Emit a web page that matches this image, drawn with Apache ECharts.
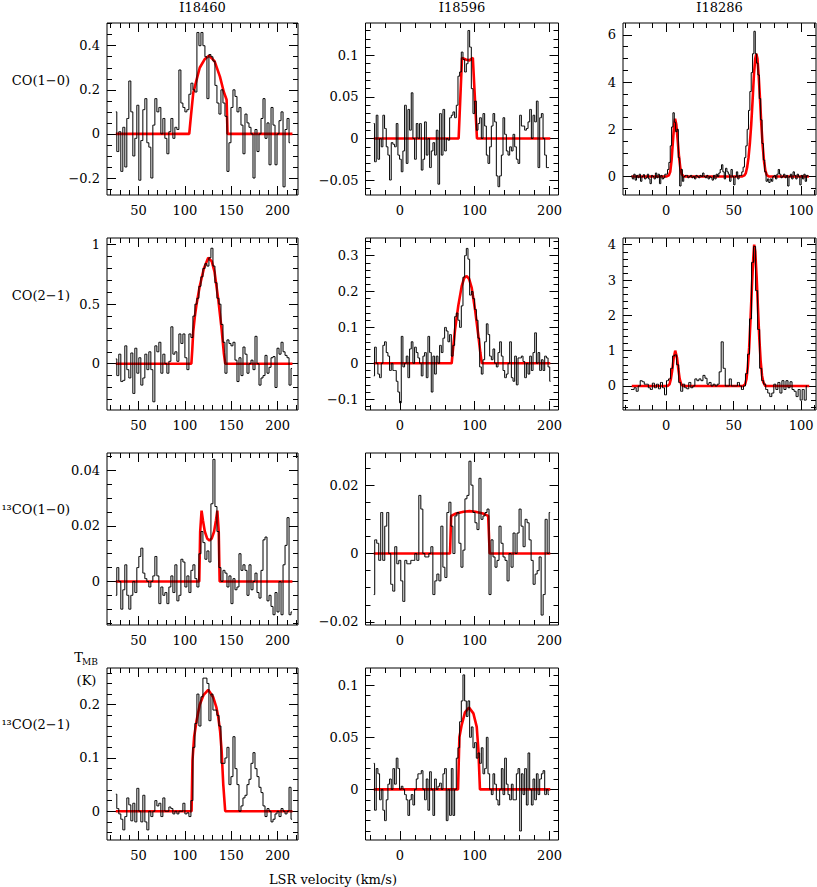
<!DOCTYPE html>
<html><head><meta charset="utf-8">
<script src="https://cdn.jsdelivr.net/npm/echarts@6/dist/echarts.min.js"></script>
<style>html,body{margin:0;padding:0;background:#fff}#c{width:817px;height:887px}</style>
</head><body><div id="c"></div>
<script>
// ---------- text ----------
const colTitles = ['I18460', 'I18596', 'I18286'];
const rowLabels = ['CO(1\u22120)', 'CO(2\u22121)', '\u00b9\u00b3CO(1\u22120)', '\u00b9\u00b3CO(2\u22121)'];
const xTitle = 'LSR velocity (km/s)';
const yTitleMain = 'T', yTitleSub = 'MB', yTitleUnit = '(K)';

// ---------- x tick labels per column ----------
const xTicks_I18460 = [50, 100, 150, 200];
const xTicks_I18596 = [0, 100, 200];
const xTicks_I18286 = [0, 50, 100];

// ---------- y tick labels per panel ----------
const yTicks_co10_I18460 = [-0.2, 0, 0.2, 0.4];
const yTicks_co10_I18596 = [-0.05, 0, 0.05, 0.1];
const yTicks_co10_I18286 = [0, 2, 4, 6];
const yTicks_co21_I18460 = [0, 0.5, 1];
const yTicks_co21_I18596 = [-0.1, 0, 0.1, 0.2, 0.3];
const yTicks_co21_I18286 = [0, 1, 2, 3, 4];
const yTicks_13co10_I18460 = [0, 0.02, 0.04];
const yTicks_13co10_I18596 = [-0.02, 0, 0.02];
const yTicks_13co21_I18460 = [0, 0.1, 0.2];
const yTicks_13co21_I18596 = [0, 0.05, 0.1];

// ---------- spectra (T_MB in K, one value per channel) ----------
const co10_I18460 = [0.10,-0.08,0.01,-0.17,0.03,-0.15,0.07,0.24,0.10,-0.10,-0.02,0.13,-0.21,-0.03,0.11,0.16,-0.04,-0.06,-0.20,0.04,0.16,0.10,0.12,0.00,0.07,-0.02,-0.09,0.01,0.07,-0.02,0.03,0.02,0.29,0.14,0.12,0.10,0.11,0.18,0.23,0.20,0.19,0.46,0.40,0.46,0.40,0.35,0.16,0.36,0.35,0.33,0.22,0.14,0.09,0.20,0.14,0.08,-0.17,-0.04,0.12,0.20,0.17,0.10,0.12,0.04,-0.09,0.09,0.05,0.03,0.00,-0.20,0.02,-0.08,0.00,0.07,0.16,-0.02,0.05,-0.14,0.12,0.04,-0.14,0.00,0.06,0.10,-0.24,0.02,0.07,-0.04];
const co10_I18596 = [0.018,-0.028,0.028,-0.025,0.0,-0.01,0.028,0.012,-0.01,-0.02,-0.05,-0.005,-0.007,-0.01,0.018,-0.02,-0.025,-0.04,-0.015,0.04,-0.03,0.035,0.01,0.055,0.0,-0.025,0.018,0.0,0.018,-0.038,-0.025,0.02,-0.02,0.0,-0.035,-0.015,-0.005,-0.02,0.01,-0.055,0.03,-0.02,0.035,-0.015,0.0,-0.002,0.025,0.028,0.032,0.025,0.04,0.075,0.08,0.104,0.095,0.08,0.09,0.13,0.11,0.06,0.03,0.045,0.01,0.018,0.025,0.0,0.03,0.015,-0.02,-0.03,-0.01,0.015,0.03,0.02,-0.045,-0.058,-0.045,-0.02,0.025,0.005,-0.015,-0.02,-0.01,-0.015,0.005,-0.01,-0.025,-0.03,0.028,0.015,0.015,0.01,0.012,0.02,0.035,0.0,0.028,0.02,0.045,-0.035,0.025,0.03,0.0,-0.02,-0.035,-0.035];
const co10_I18286 = [0.05,-0.1,0.1,-0.15,0.05,-0.05,0.1,-0.2,0.0,0.08,-0.1,-0.05,0.1,-0.1,-0.3,0.05,0.0,-0.1,0.15,-0.05,0.1,-0.3,0.05,-0.1,-0.05,0.1,
  0.1,0.3,0.6,1.3,2.1,2.7,2.3,1.9,2.0,0.8,-0.4,0.3,-0.2,0.0,0.05,
  0.05,-0.05,0.0,0.05,-0.05,0.0,-0.1,0.05,0.0,-0.05,0.05,0.0,0.15,0.0,-0.05,0.05,-0.1,0.0,-0.05,-0.15,0.05,-0.1,0.1,0.0,0.15,0.3,0.5,0.2,-0.1,0.35,0.2,0.1,-0.2,0.3,0.0,-0.35,0.0,0.2,-0.1,0.05,
  0.05,0.2,0.4,0.8,1.3,2.0,2.8,3.6,4.4,5.2,6.15,5.2,4.8,4.3,3.3,2.4,1.4,0.7,0.2,-0.2,-0.1,-0.25,-0.1,-0.2,0.0,
  0.05,-0.1,0.1,0.3,0.1,-0.05,0.0,0.1,-0.05,0.05,-0.4,0.0,0.1,-0.1,0.2,0.05,-0.1,0.1,0.0,-0.35,0.05,-0.1,0.1,-0.2,0.05,0.0];
const co21_I18460 = [0.04,-0.10,0.08,-0.15,-0.14,0.15,-0.05,-0.12,0.09,-0.25,0.13,-0.08,0.05,-0.18,-0.12,0.08,-0.05,0.10,-0.05,-0.32,0.15,0.10,0.18,-0.08,0.08,0.00,-0.08,0.02,0.31,0.08,0.10,0.02,0.25,0.17,0.25,0.05,-0.05,0.25,0.22,0.40,0.50,0.55,0.65,0.73,0.80,0.84,0.82,0.89,0.97,0.82,0.68,0.55,0.50,0.33,0.18,-0.08,0.20,0.17,0.15,0.18,0.03,-0.15,0.05,-0.10,0.14,0.08,-0.08,0.00,0.03,-0.05,0.23,0.00,-0.18,-0.12,-0.10,0.07,-0.08,-0.03,0.05,0.06,-0.20,0.13,0.08,0.18,0.10,0.07,0.05,-0.18,-0.04];
const co21_I18596 = [-0.035,0.045,0.0,-0.03,-0.04,0.0,0.05,0.06,0.03,0.02,-0.02,0.0,-0.02,-0.02,-0.05,-0.08,-0.11,0.075,-0.01,0.0,0.02,-0.04,0.04,0.06,0.0,0.045,0.03,0.015,0.0,-0.035,0.02,0.03,-0.04,0.075,0.03,-0.08,0.02,-0.03,0.02,0.0,0.05,0.03,0.07,0.10,0.09,0.06,0.08,0.02,0.05,0.13,0.14,0.12,0.10,0.16,0.24,0.30,0.32,0.29,0.19,0.20,0.18,0.15,0.12,0.07,-0.01,-0.03,0.01,0.06,0.11,0.08,0.02,0.01,0.04,0.0,-0.01,0.03,0.06,0.02,-0.02,-0.04,-0.03,0.0,0.06,-0.04,-0.05,0.02,-0.06,0.015,0.015,0.02,0.005,-0.04,0.0,-0.03,0.02,-0.02,0.03,0.085,0.0,0.03,-0.02,0.01,-0.02,0.02,0.015,-0.01,-0.05];
const co21_I18286 = [-0.1,-0.1,-0.05,-0.15,0.0,0.15,0.12,0.05,0.05,-0.05,-0.1,0.08,-0.05,0.05,-0.08,0.1,-0.05,-0.25,0.15,0.2,0.5,0.85,0.88,0.6,0.1,-0.15,0.05,-0.05,-0.08,0.1,-0.05,0.0,0.2,0.15,0.2,0.15,0.3,0.22,0.05,0.1,0.0,0.05,0.0,0.05,0.4,1.25,0.5,0.0,0.0,0.2,0.0,0.0,0.0,0.1,0.0,-0.1,0.0,0.35,0.9,1.9,3.5,3.95,2.7,1.6,0.5,0.15,0.05,-0.1,-0.2,-0.3,-0.2,0.05,-0.1,0.1,-0.2,0.15,-0.1,0.15,-0.05,0.12,-0.1,-0.15,-0.3,-0.1,-0.4,-0.1,-0.4,0.0];
const co13_10_I18460 = [-0.005,0.005,0.0,-0.01,-0.003,0.006,-0.005,-0.01,-0.005,0.0,-0.004,0.005,0.009,0.012,0.003,0.001,0.0,-0.002,0.0,0.002,0.009,0.002,-0.008,-0.002,-0.005,-0.004,-0.008,-0.002,0.002,-0.004,0.006,-0.007,-0.005,0.008,0.007,-0.002,0.002,-0.004,0.004,0.006,0.001,-0.002,0.01,0.018,0.014,0.008,0.011,0.007,0.028,0.044,0.027,0.018,0.005,0.0,0.004,0.003,-0.002,0.002,-0.008,0.001,-0.003,-0.002,0.01,0.004,0.006,0.004,-0.005,0.006,-0.003,0.0,0.003,-0.004,-0.006,0.004,0.015,0.016,-0.007,-0.005,-0.009,-0.012,-0.004,-0.011,0.0,-0.012,0.006,0.013,0.023,-0.012,-0.011];
const co13_10_I18596 = [-0.012,0.004,0.003,-0.002,0.012,-0.002,0.008,0.012,0.0,-0.009,-0.011,0.002,-0.003,-0.002,-0.008,-0.014,-0.002,-0.003,-0.003,-0.002,-0.002,0.0,-0.002,0.017,0.013,0.0,-0.001,-0.001,0.0,0.002,-0.012,-0.008,-0.006,-0.008,0.008,-0.004,-0.007,0.012,0.015,0.008,0.0,0.011,0.012,0.003,-0.004,0.001,0.016,0.017,0.027,0.02,0.012,0.009,0.007,0.022,0.01,0.011,0.012,0.013,-0.012,0.004,-0.001,-0.004,-0.002,0.008,0.003,-0.001,-0.002,-0.008,0.0,-0.004,0.006,0.0,0.006,0.013,0.008,0.002,0.01,0.009,0.004,-0.002,-0.009,-0.006,-0.005,-0.001,-0.018,-0.012,0.01,0.0,0.012];
const co13_21_I18460 = [0.032,0.005,-0.005,-0.015,-0.035,-0.01,0.025,0.012,-0.018,0.015,-0.02,0.043,0.0,-0.02,0.03,-0.02,-0.035,0.0,-0.01,0.0,0.02,0.01,0.015,-0.01,0.025,0.0,0.0,0.008,0.005,-0.005,0.0,-0.005,0.0,0.0,0.015,-0.005,-0.003,-0.01,0.02,0.12,0.165,0.22,0.16,0.215,0.25,0.25,0.24,0.17,0.22,0.19,0.19,0.18,0.16,0.09,0.09,0.1,0.12,0.05,0.065,0.14,0.08,0.05,0.0,0.01,0.025,0.03,0.05,0.06,0.09,0.11,0.08,0.065,0.045,0.035,0.01,-0.01,0.005,0.0,-0.02,-0.015,-0.005,0.0,-0.01,0.005,0.0,-0.005,0.0,0.045,-0.015];
const co13_21_I18596 = [0.025,-0.02,0.02,0.015,-0.01,0.0,-0.02,-0.03,-0.01,0.005,0.01,0.0,0.02,0.005,0.03,0.02,0.0,0.003,0.0,-0.005,-0.01,-0.025,-0.01,-0.005,-0.015,0.0,0.01,0.015,0.015,0.018,0.0,-0.01,0.01,-0.02,0.017,0.0,-0.025,0.01,0.0,0.003,0.006,0.0,0.015,0.02,-0.03,0.0,-0.025,0.02,-0.025,0.0,0.03,0.04,0.065,0.085,0.11,0.085,0.07,0.085,0.05,0.06,0.04,0.045,0.03,0.035,0.025,0.04,0.015,0.02,0.05,0.015,0.0,-0.005,0.015,0.005,-0.01,-0.015,0.0,0.02,-0.005,0.03,0.005,-0.005,-0.01,0.005,-0.01,-0.01,0.015,0.02,-0.04,0.015,-0.005,0.02,-0.015,0.035,0.0,-0.015,0.01,-0.01,0.015,-0.005,0.01,0.015,0.018,-0.005,0.0,-0.005];

// ---------- fitted profiles (velocity, T_MB) ----------
const fitV_co10_I18460 = [25.5,104.7,106.5,109,112.6,116,121.6,126,132,137.8,142,145,146,216];
const fitT_co10_I18460 = [0,0,0.08,0.185,0.245,0.30,0.34,0.355,0.33,0.26,0.19,0.155,0,0];
const fitV_co10_I18596 = [-35,78.5,83,88,93,97.5,103,201];
const fitT_co10_I18596 = [0,0,0.097,0.095,0.094,0.097,0,0];
const fitV_co10_I18286 = [-25.5,0,2,3,4,5,6,6.6,7.5,8.5,9.5,10.5,11.5,13,56,58,59,60,61,62,63,64,65,66,66.8,67.6,68.5,69.5,70.5,71.5,72.5,73.5,74.5,76,105.7];
const fitT_co10_I18286 = [0,0,0.05,0.2,0.7,1.5,2.25,2.45,2.2,1.55,0.85,0.35,0.1,0,0,0.05,0.15,0.4,0.8,1.4,2.2,3.2,4.3,5.0,5.2,5.0,4.3,3.3,2.2,1.3,0.65,0.25,0.07,0,0];
const fitV_co21_I18460 = [25.5,107,108,109,110.8,112.6,116,120.5,125.2,129,132,136,139.6,142,143.5,216];
const fitT_co21_I18460 = [0,0,0.12,0.27,0.4,0.5,0.65,0.80,0.89,0.86,0.77,0.54,0.29,0.09,0,0];
const fitV_co21_I18596 = [-35,69.2,71,73.7,78,82.6,86,89.3,92.5,96,100.4,104.9,107.5,109.5,201];
const fitT_co21_I18596 = [0,0,0.04,0.094,0.16,0.215,0.238,0.243,0.235,0.21,0.15,0.076,0.03,0,0];
const fitV_co21_I18286 = [-25.5,1,2.5,3.5,4.5,5.5,6.7,8,9,10,11,12.5,57,58.5,59.5,60.5,61.5,62.5,63.5,64.5,65.2,66,67,68,69,70,71,72,73.5,106];
const fitT_co21_I18286 = [0,0,0.05,0.2,0.45,0.78,1.0,0.8,0.48,0.2,0.06,0,0,0.05,0.2,0.55,1.1,1.9,2.8,3.6,4.0,3.8,3.1,2.2,1.35,0.7,0.3,0.1,0,0];
const fitV_13co10_I18460 = [25.5,115.5,116.5,118,119.5,121.5,124,126.5,129,131.5,133.5,135,136.5,137.5,216];
const fitT_13co10_I18460 = [0,0,0.018,0.0255,0.022,0.018,0.0155,0.0148,0.0155,0.018,0.022,0.0255,0.018,0,0];
const fitV_13co10_I18596 = [-35,67,68.5,75,85,93,101,111,118,120,201];
const fitT_13co10_I18596 = [0,0,0.011,0.0117,0.0122,0.0124,0.0122,0.0117,0.011,0,0];
const fitV_13co21_I18460 = [25.5,107.2,108.2,110,112.6,116,120,125.2,130.6,134,136,138,139.6,141.4,143.5,216];
const fitT_13co21_I18460 = [0,0,0.096,0.14,0.17,0.2,0.218,0.228,0.214,0.195,0.177,0.15,0.114,0.05,0,0];
const fitV_13co21_I18596 = [-35,77.7,79.5,82.6,87,92.4,98.2,102.7,104.9,107,201];
const fitT_13co21_I18596 = [0,0,0.05,0.062,0.074,0.0786,0.073,0.06,0.038,0,0];

// ---------- layout ----------
const FONT = '"DejaVu Serif", serif';
const cols = [
  {left: 107,   width: 191, xMin: 16,  xMax: 222, xTicks: xTicks_I18460, xMinor: 10},
  {left: 365.5, width: 193, xMin: -46, xMax: 212, xTicks: xTicks_I18596, xMinor: 20},
  {left: 623,   width: 193, xMin: -32, xMax: 111, xTicks: xTicks_I18286, xMinor: 10}
];
const rowTops = [23, 238, 453, 668];
const rowH = 172;

const panels = [
  {row:0,col:0,yMin:-0.277,yMax:0.503,yTicks:yTicks_co10_I18460,yMinor:0.05,v0:25.5,dv:2.16,T:co10_I18460,fv:fitV_co10_I18460,ft:fitT_co10_I18460},
  {row:0,col:1,yMin:-0.068,yMax:0.139,yTicks:yTicks_co10_I18596,yMinor:0.01,v0:-35,dv:2.23,T:co10_I18596,fv:fitV_co10_I18596,ft:fitT_co10_I18596},
  {row:0,col:2,yMin:-0.78,yMax:6.5,yTicks:yTicks_co10_I18286,yMinor:0.5,v0:-25.5,dv:1.0,T:co10_I18286,fv:fitV_co10_I18286,ft:fitT_co10_I18286},
  {row:1,col:0,yMin:-0.389,yMax:1.056,yTicks:yTicks_co21_I18460,yMinor:0.1,v0:25.5,dv:2.16,T:co21_I18460,fv:fitV_co21_I18460,ft:fitT_co21_I18460},
  {row:1,col:1,yMin:-0.13,yMax:0.349,yTicks:yTicks_co21_I18596,yMinor:0.02,v0:-35,dv:2.23,T:co21_I18596,fv:fitV_co21_I18596,ft:fitT_co21_I18596},
  {row:1,col:2,yMin:-0.68,yMax:4.19,yTicks:yTicks_co21_I18286,yMinor:0.2,v0:-26,dv:1.5,T:co21_I18286,fv:fitV_co21_I18286,ft:fitT_co21_I18286},
  {row:2,col:0,yMin:-0.0157,yMax:0.0463,yTicks:yTicks_13co10_I18460,yMinor:0.005,v0:25.5,dv:2.16,T:co13_10_I18460,fv:fitV_13co10_I18460,ft:fitT_13co10_I18460},
  {row:2,col:1,yMin:-0.0209,yMax:0.0294,yTicks:yTicks_13co10_I18596,yMinor:0.005,v0:-35,dv:2.68,T:co13_10_I18596,fv:fitV_13co10_I18596,ft:fitT_13co10_I18596},
  {row:3,col:0,yMin:-0.054,yMax:0.269,yTicks:yTicks_13co21_I18460,yMinor:0.02,v0:25.5,dv:2.16,T:co13_21_I18460,fv:fitV_13co21_I18460,ft:fitT_13co21_I18460},
  {row:3,col:1,yMin:-0.0486,yMax:0.1166,yTicks:yTicks_13co21_I18596,yMinor:0.01,v0:-35,dv:2.23,T:co13_21_I18596,fv:fitV_13co21_I18596,ft:fitT_13co21_I18596}
];

const MAJOR = 9, MINOR = 5;
function fmt(v) { return String(+v.toFixed(6)).replace('-', '\u2212'); }
function minorVals(min, max, step) {
  const out = [];
  for (let k = Math.ceil(min / step - 1e-9); k * step <= max + 1e-9; k++) {
    const v = +(k * step).toFixed(6);
    if (v > min && v < max) out.push(v);
  }
  return out;
}
function axis(gi, pos, min, max, vals, len, labels) {
  return {
    type: 'value', gridIndex: gi, position: pos, min: min, max: max,
    axisLine: {show: false, onZero: false},
    splitLine: {show: false}, minorTick: {show: false}, minorSplitLine: {show: false},
    axisTick: {show: true, inside: true, length: len, customValues: vals, lineStyle: {color: '#000', width: 1}},
    axisLabel: labels ? {
      show: true, customValues: vals, formatter: fmt, fontFamily: FONT, fontSize: 13, color: '#000',
      margin: (pos === 'bottom') ? 9 : 7, hideOverlap: false
    } : {show: false}
  };
}

const option = {animation: false, backgroundColor: '#fff', grid: [], xAxis: [], yAxis: [], series: [], graphic: []};

panels.forEach((p, i) => {
  const c = cols[p.col];
  option.grid.push({left: c.left, width: c.width, top: rowTops[p.row], height: rowH, show: true,
    borderColor: '#000', borderWidth: 1, backgroundColor: 'rgba(0,0,0,0)', containLabel: false, outerBoundsMode: 'none'});
  const xm = minorVals(c.xMin, c.xMax, c.xMinor);
  const ym = minorVals(p.yMin, p.yMax, p.yMinor);
  option.xAxis.push(axis(i, 'bottom', c.xMin, c.xMax, c.xTicks, MAJOR, true));
  option.xAxis.push(axis(i, 'bottom', c.xMin, c.xMax, xm, MINOR, false));
  option.xAxis.push(axis(i, 'top', c.xMin, c.xMax, c.xTicks, MAJOR, false));
  option.xAxis.push(axis(i, 'top', c.xMin, c.xMax, xm, MINOR, false));
  option.yAxis.push(axis(i, 'left', p.yMin, p.yMax, p.yTicks, MAJOR, true));
  option.yAxis.push(axis(i, 'left', p.yMin, p.yMax, ym, MINOR, false));
  option.yAxis.push(axis(i, 'right', p.yMin, p.yMax, p.yTicks, MAJOR, false));
  option.yAxis.push(axis(i, 'right', p.yMin, p.yMax, ym, MINOR, false));

  const fit = p.fv.map((v, k) => [v, p.ft[k]]);
  const spec = p.T.map((t, k) => [p.v0 + k * p.dv, t]);
  option.series.push({
    type: 'line', xAxisIndex: 4 * i, yAxisIndex: 4 * i, data: fit, symbol: 'none', silent: true, z: 2,
    lineStyle: {color: '#ff0000', width: 2.6}
  });
  option.series.push({
    type: 'line', step: 'middle', xAxisIndex: 4 * i, yAxisIndex: 4 * i, data: spec, symbol: 'none', silent: true, z: 3,
    lineStyle: {color: '#000', width: 1}
  });
});

function txt(text, x, y, align, size) {
  return {type: 'text', x: x, y: y, silent: true,
    style: {text: text, font: (size || 13) + 'px ' + FONT, fill: '#000', align: align, verticalAlign: 'middle'}};
}
cols.forEach((c, k) => option.graphic.push(txt(colTitles[k], c.left + c.width / 2, 7.5, 'center')));
rowLabels.forEach((t, r) => option.graphic.push(txt(t, 70, rowTops[r] + [57, 57, 56, 56][r], 'right')));
option.graphic.push(txt(yTitleMain, 78.5, 657, 'center'));
option.graphic.push(txt(yTitleSub, 90, 662, 'center', 9));
option.graphic.push(txt(yTitleUnit, 86.5, 680, 'center'));
option.graphic.push(txt(xTitle, 333, 879, 'center'));

const chart = echarts.init(document.getElementById('c'), null, {renderer: 'svg', width: 817, height: 887});
chart.setOption(option);
</script>
</body></html>
